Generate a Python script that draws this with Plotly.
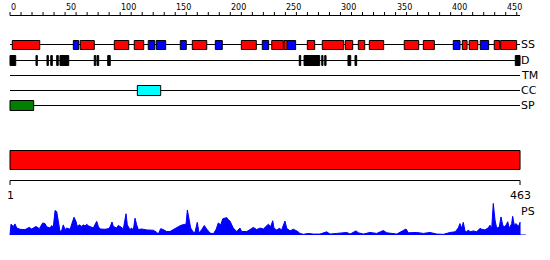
import plotly.graph_objects as go

# ---------------- data ----------------
seq_len = 463

# secondary structure (H = helix, red; E = strand, blue)
ss_start = [2.1, 57.5, 63.8, 94.7, 112.8, 125.5, 132.8, 154.6, 165.5, 186.4,
            210.0, 229.0, 237.6, 248.7, 251.7, 269.9, 283.5, 304.4, 316.2, 326.2,
            357.9, 375.2, 402.4, 410.6, 416.9, 426.9, 439.6, 445.4]
ss_end = [27.0, 62.4, 76.5, 107.8, 121.4, 131.4, 141.3, 160.0, 178.6, 192.7,
          223.6, 234.8, 248.1, 251.7, 259.3, 276.6, 302.9, 311.1, 322.0, 339.2,
          371.0, 385.2, 408.5, 414.9, 424.6, 434.5, 444.5, 459.9]
ss_type = ['H', 'E', 'H', 'H', 'H', 'E', 'E', 'E', 'H', 'E',
           'H', 'E', 'H', 'H', 'E', 'H', 'H', 'H', 'H', 'H',
           'H', 'H', 'E', 'H', 'H', 'E', 'H', 'H']

# disorder
d_start = [0.0, 23.6, 33.6, 37.0, 42.4, 45.4, 76.5, 79.0, 88.7, 262.6,
           266.9, 283.0, 285.7, 306.8, 313.2, 458.7]
d_end = [5.2, 24.8, 34.8, 38.4, 43.8, 53.3, 77.8, 80.5, 91.0, 263.9,
         281.1, 284.1, 286.9, 309.3, 314.7, 463.0]

tm_start, tm_end = [], []
cc_start, cc_end = [115.6], [136.8]
sp_start, sp_end = [0.0], [21.5]

dom_start, dom_end = [0.0], [463.0]

track_names = ['SS', 'D', 'TM', 'CC', 'SP']

ruler_ticks = list(range(0, 461, 10))
ruler_labels = [0, 50, 100, 150, 200, 250, 300, 350, 400, 450]
bottom_labels = [1, 463]

ps_res = [0, 0.9, 3.0, 4.5, 6.1, 9.1, 13.6, 17.5, 19.7, 23.6,
          26.6, 29.7, 31.8, 33.3, 36.3, 37.9, 39.3, 40.9, 42.4, 43.9,
          45.4, 46.9, 48.4, 49.9, 51.5, 54.5, 56.0, 58.1, 59.9, 61.1,
          62.9, 65.1, 66.5, 68.1, 69.6, 71.1, 73.2, 75.6, 78.7, 80.2,
          81.7, 86.2, 89.2, 90.8, 92.6, 93.8, 96.8, 98.3, 100.5, 102.9,
          105.3, 106.5, 108.9, 110.5, 111.9, 113.5, 115.0, 116.5, 119.5, 124.1,
          130.1, 133.1, 134.6, 136.8, 139.2, 142.2, 145.2, 148.2, 151.3, 154.3,
          157.3, 159.8, 161.0, 162.5, 164.0, 166.4, 167.9, 170.0, 171.6, 174.0,
          176.4, 178.5, 181.6, 184.6, 187.0, 189.1, 191.3, 193.1, 195.2, 196.7,
          198.2, 199.7, 201.3, 202.7, 205.8, 208.8, 210.3, 214.9, 217.9, 220.9,
          224.0, 227.0, 230.0, 233.0, 234.5, 236.7, 238.5, 239.7, 242.1, 244.5,
          246.6, 249.6, 251.2, 254.2, 257.2, 260.3, 263.3, 266.3, 270.8, 275.3,
          281.4, 287.5, 290.5, 296.6, 305.7, 308.7, 314.1, 316.2, 320.7, 326.8,
          332.9, 338.9, 342.0, 351.1, 359.5, 361.6, 369.2, 375.2, 381.3, 387.4,
          393.4, 399.4, 404.0, 405.5, 407.0, 408.5, 410.0, 411.5, 413.0, 414.6,
          416.1, 417.6, 420.6, 423.6, 426.7, 428.2, 431.2, 434.2, 435.7, 437.3,
          438.7, 440.3, 441.8, 444.2, 445.7, 447.3, 448.7, 450.3, 451.8, 453.3,
          455.4, 456.3, 457.8, 459.4, 461.5, 463.0, 463.0]
ps_val = [0, 0.34, 0.27, 0.35, 0.22, 0.18, 0.17, 0.24, 0.19, 0.27,
          0.20, 0.38, 0.36, 0.26, 0.22, 0.30, 0.24, 0.77, 0.74, 0.45,
          0.11, 0.14, 0.32, 0.17, 0.22, 0.18, 0.32, 0.56, 0.43, 0.27,
          0.32, 0.27, 0.32, 0.28, 0.34, 0.29, 0.26, 0.22, 0.43, 0.27,
          0.19, 0.18, 0.20, 0.25, 0.41, 0.27, 0.22, 0.30, 0.26, 0.19,
          0.67, 0.32, 0.17, 0.22, 0.14, 0.53, 0.32, 0.17, 0.19, 0.16,
          0.15, 0.09, 0.03, 0.20, 0.17, 0.11, 0.11, 0.17, 0.25, 0.29,
          0.33, 0.34, 0.79, 0.53, 0.22, 0.09, 0.08, 0.40, 0.06, 0.17,
          0.30, 0.19, 0.06, 0.04, 0.17, 0.38, 0.32, 0.51, 0.53, 0.55,
          0.48, 0.44, 0.32, 0.22, 0.11, 0.22, 0.11, 0.11, 0.17, 0.24,
          0.17, 0.22, 0.19, 0.27, 0.34, 0.27, 0.45, 0.21, 0.16, 0.21,
          0.16, 0.44, 0.21, 0.13, 0.18, 0.13, 0.05, 0.02, 0.05, 0.03,
          0.03, 0.10, 0.03, 0.05, 0.08, 0.03, 0.13, 0.07, 0.03, 0.08,
          0.05, 0.14, 0.07, 0.03, 0.19, 0.07, 0.08, 0.05, 0.08, 0.03,
          0.02, 0.08, 0.10, 0.16, 0.23, 0.36, 0.21, 0.40, 0.13, 0.10,
          0.16, 0.10, 0.13, 0.10, 0.21, 0.18, 0.16, 0.23, 0.31, 0.21,
          1.00, 0.47, 0.21, 0.26, 0.57, 0.31, 0.26, 0.31, 0.42, 0.21,
          0.36, 0.59, 0.31, 0.36, 0.26, 0.40, 0]
if len(ps_res) != len(ps_val):
    raise SystemExit(f"length mismatch {len(ps_res)} {len(ps_val)}")

# ---------------- styling / layout ----------------
FONT = "DejaVu Sans"
track_y = {'SS': 44.5, 'D': 60.5, 'TM': 75.5, 'CC': 90.5, 'SP': 105.5}
ss_color = {'H': '#FF0000', 'E': '#0000FF'}

shapes = []
annotations = []


def line(x0, x1, y0, y1, color='black', width=1, yref='y'):
    shapes.append(dict(type='line', xref='x', yref=yref, x0=x0, x1=x1, y0=y0, y1=y1,
                       line=dict(color=color, width=width)))


def rect(x0, x1, y0, y1, fill):
    shapes.append(dict(type='rect', xref='x', yref='y', x0=x0, x1=x1, y0=y0, y1=y1,
                       fillcolor=fill, line=dict(color='black', width=1)))


# top ruler
line(0, seq_len, 15.5, 15.5)
for t in ruler_ticks:
    line(t, t, 12, 15.5)
for lab in ruler_labels:
    annotations.append(dict(x=lab, y=7.5, xref='x', yref='y', text=str(lab),
                            showarrow=False, xanchor='left', yanchor='middle',
                            xshift=-1, font=dict(family=FONT, size=8, color='black')))

# track lines and labels
for name in track_names:
    y = track_y[name]
    line(0, seq_len, y, y)
    annotations.append(dict(x=seq_len, y=y, xref='x', yref='y', text=name,
                            showarrow=False, xanchor='left', yanchor='middle',
                            xshift=-1, font=dict(family=FONT, size=11, color='black')))

# SS boxes
for s, e, t in zip(ss_start, ss_end, ss_type):
    rect(s, e, 40.5, 49.5, ss_color[t])
# disorder boxes
for s, e in zip(d_start, d_end):
    rect(s, e, 55.5, 65.5, '#000000')
for s, e in zip(tm_start, tm_end):
    rect(s, e, 70.5, 80.5, '#FFFF00')
for s, e in zip(cc_start, cc_end):
    rect(s, e, 85.5, 95.5, '#00FFFF')
for s, e in zip(sp_start, sp_end):
    rect(s, e, 100.5, 110.5, '#008000')

# domain bar
for s, e in zip(dom_start, dom_end):
    rect(s, e, 150.5, 169.5, '#FF0000')

# bottom ruler
line(0, seq_len, 180.5, 180.5)
line(0, 0, 180.5, 185)
line(seq_len, seq_len, 180.5, 185)
for lab, xpos in zip(bottom_labels, [0, seq_len]):
    annotations.append(dict(x=xpos, y=195, xref='x', yref='y', text=str(lab),
                            showarrow=False, xanchor='center', yanchor='middle',
                            font=dict(family=FONT, size=11, color='black')))

# PS label
annotations.append(dict(x=seq_len, y=211, xref='x', yref='y', text='PS',
                        showarrow=False, xanchor='left', yanchor='middle',
                        xshift=-1, font=dict(family=FONT, size=11, color='black')))

fig = go.Figure()
fig.add_trace(go.Scatter(x=ps_res, y=ps_val, xaxis='x', yaxis='y2', mode='lines',
                         fill='tozeroy', fillcolor='#0000FF',
                         line=dict(color='#0000FF', width=1), hoverinfo='skip',
                         showlegend=False))
# PS baseline
shapes.append(dict(type='line', xref='x', yref='y2', x0=0, x1=468.4, y0=0, y1=0,
                   line=dict(color='#0000FF', width=1), layer='below'))

px_per_res = 1.1016
fig.update_layout(
    width=550, height=260,
    margin=dict(l=0, r=0, t=0, b=0),
    paper_bgcolor='white', plot_bgcolor='white',
    showlegend=False,
    xaxis=dict(range=[-10 / px_per_res, 540 / px_per_res], visible=False, fixedrange=True),
    yaxis=dict(range=[260, 0], visible=False, domain=[0, 1], fixedrange=True),
    yaxis2=dict(range=[0, 1], visible=False, domain=[25 / 260, 56.7 / 260],
                anchor='x', fixedrange=True),
    shapes=shapes,
    annotations=annotations,
    font=dict(family=FONT),
)

fig.write_html("out.html")
